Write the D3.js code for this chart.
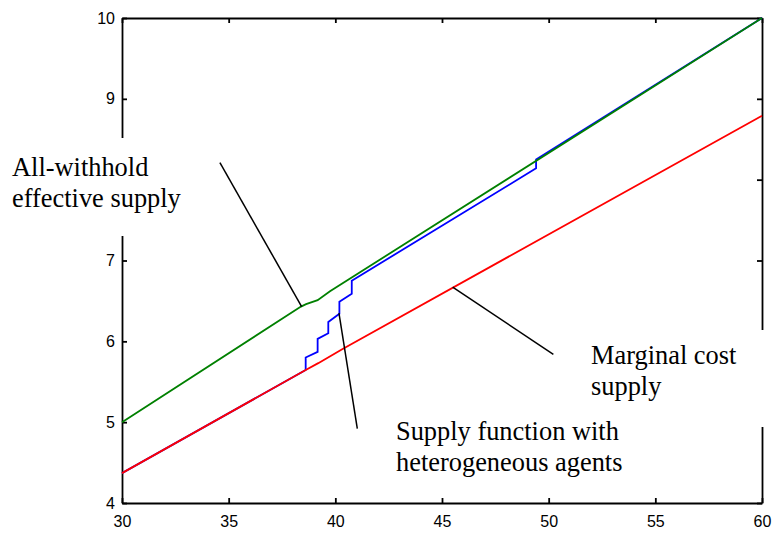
<!DOCTYPE html>
<html>
<head>
<meta charset="utf-8">
<script src="https://cdn.jsdelivr.net/npm/d3@7"></script>
<style>
  body { margin: 0; background: #fff; }
  svg { display: block; }
  .tick text { font-family: "Liberation Sans", Arial, sans-serif; font-size: 16px; fill: #000; }
  .label { font-family: "Liberation Serif", "Times New Roman", serif; font-size: 26.4px; fill: #000; }
</style>
</head>
<body>
<svg id="chart" width="776" height="536"></svg>
<script>
// quantity / price pairs
const withholdQ = [30, 38.39, 38.63, 39.17, 39.75, 60];
const withholdP = [5.0, 6.43, 6.46, 6.51, 6.62, 10.0];

const marginalQ = [30, 38.61, 39.2, 40.3, 60];
const marginalP = [4.37, 5.645, 5.73, 5.9, 8.79];

const heteroQ = [30, 38.61, 38.61, 39.17, 39.17, 39.67, 39.67, 40.19, 40.19, 40.77, 40.77, 49.41, 49.41, 60];
const heteroP = [4.37, 5.645, 5.8, 5.87, 6.03, 6.1, 6.24, 6.34, 6.49, 6.59, 6.75, 8.14, 8.25, 10.0];

const xTicks = [30, 35, 40, 45, 50, 55, 60];
const yTicks = [4, 5, 6, 7, 8, 9, 10];

// pointer lines from the labels to the curves: [q1, p1, q2, p2]
const pointers = [
  [34.59, 8.21, 38.42, 6.43],
  [40.17, 6.35, 41.03, 4.92],
  [45.5, 6.67, 50.22, 5.84],
];

const svg = d3.select('#chart');
const x = d3.scaleLinear().domain([30, 60]).range([122, 762]);
const y = d3.scaleLinear().domain([4, 10]).range([503, 18]);

// frame with inward ticks on all four sides
svg.append('g')
  .attr('transform', `translate(0,${y(4)})`)
  .call(d3.axisBottom(x).tickValues(xTicks).tickFormat(d3.format('d'))
    .tickSizeInner(-5).tickSizeOuter(0).tickPadding(13));
svg.append('g')
  .attr('transform', `translate(${x(30)},0)`)
  // the 8 label sits under the left text box, so it is left blank
  .call(d3.axisLeft(y).tickValues(yTicks).tickFormat((d) => (d === 8 ? '' : d))
    .tickSizeInner(-5).tickSizeOuter(0).tickPadding(7));
svg.append('g')
  .attr('transform', `translate(0,${y(10)})`)
  .call(d3.axisTop(x).tickValues(xTicks).tickSizeInner(-5).tickSizeOuter(0).tickFormat(''));
svg.append('g')
  .attr('transform', `translate(${x(60)},0)`)
  .call(d3.axisRight(y).tickValues(yTicks).tickSizeInner(-5).tickSizeOuter(0).tickFormat(''));

svg.selectAll('.domain').attr('stroke', '#000').attr('stroke-width', 1.8);
svg.selectAll('.tick line').attr('stroke', '#000').attr('stroke-width', 1.8);

const line = d3.line().x((d) => x(d[0])).y((d) => y(d[1]));
const series = [
  { q: heteroQ, p: heteroP, color: '#0000ff' },
  { q: withholdQ, p: withholdP, color: '#008000' },
  { q: marginalQ, p: marginalP, color: '#ff0000' },
];

series.forEach((s) => {
  svg.append('path')
    .datum(d3.zip(s.q, s.p))
    .attr('d', line)
    .attr('fill', 'none')
    .attr('stroke', s.color)
    .attr('stroke-width', 1.8);
});

svg.selectAll('.pointer')
  .data(pointers)
  .join('line')
  .attr('class', 'pointer')
  .attr('x1', (d) => x(d[0]))
  .attr('y1', (d) => y(d[1]))
  .attr('x2', (d) => x(d[2]))
  .attr('y2', (d) => y(d[3]))
  .attr('stroke', '#000')
  .attr('stroke-width', 1.5);

// text boxes with white backgrounds that cut into the frame
const labels = [
  { lines: ['All-withhold', 'effective supply'], x: 12, y: 176, box: [0, 138, 205, 98] },
  { lines: ['Marginal cost', 'supply'], x: 591, y: 364, box: [575, 330, 201, 97] },
  { lines: ['Supply function with', 'heterogeneous agents'], x: 396, y: 440, box: null },
];

labels.forEach((l) => {
  if (l.box) {
    svg.append('rect')
      .attr('x', l.box[0]).attr('y', l.box[1])
      .attr('width', l.box[2]).attr('height', l.box[3])
      .attr('fill', '#fff');
  }
  const t = svg.append('text').attr('class', 'label').attr('x', l.x).attr('y', l.y);
  l.lines.forEach((s, i) => {
    t.append('tspan').attr('x', l.x).attr('dy', i === 0 ? 0 : 31).text(s);
  });
});
</script>
</body>
</html>
